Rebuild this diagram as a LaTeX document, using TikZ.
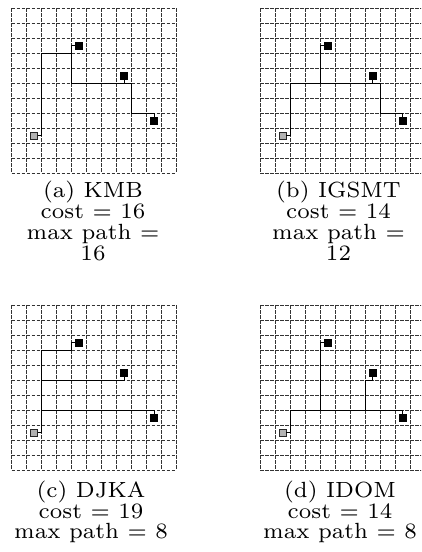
\documentclass[tikz,border=0pt]{standalone}
\usepackage{graphicx}
\tikzset{
  gridline/.style={draw=black!80, line width=0.7pt, dash pattern=on 3.5pt off 1.5pt},
  wire/.style={draw=black, line width=0.9pt},
  term/.style={rectangle, fill=black, draw=black, line width=0.3pt, minimum size=7.2pt, inner sep=0pt},
  src/.style={rectangle, fill=black!30, draw=black!85, line width=0.6pt, minimum size=7pt, inner sep=0pt},
  lbl/.style={anchor=base, inner sep=0pt, font=\fontsize{7}{8}\selectfont, scale=3.14}
}
\newcommand\gridpanel{%
  \foreach \i in {0,...,11} {%
    \draw[gridline] (\i,0) -- (\i,11);
    \draw[gridline] (0,\i) -- (11,\i);
  }%
}
\begin{document}
\begin{tikzpicture}[x=1pt, y=-1pt]
\useasboundingbox (0,0) rectangle (421,552);
\clip (0,0) rectangle (421,552);

% ---------- (a) KMB ----------
\begin{scope}[shift={(11.5,8.3)}, x=15pt, y=-15pt]
  \gridpanel
  \node[src]  (aS)  at (1.5,8.5) {};
  \node[term] (aT1) at (4.5,2.5) {};
  \node[term] (aT2) at (7.5,4.5) {};
  \node[term] (aT3) at (9.5,7.5) {};
  \coordinate (aJ1) at (4,3);
  \coordinate (aJ2) at (7.5,5);
  \draw[wire] (aS) -- (2,8.5) |- (aJ1) |- (aT1);
  \draw[wire] (aJ1) |- (8,5) |- (9.5,7) -- (aT3);
  \draw[wire] (aJ2) -- (aT2);
\end{scope}

% ---------- (b) IGSMT ----------
\begin{scope}[shift={(260,8.3)}, x=15pt, y=-15pt]
  \gridpanel
  \node[src]  (bS)  at (1.5,8.5) {};
  \node[term] (bT1) at (4.5,2.5) {};
  \node[term] (bT2) at (7.5,4.5) {};
  \node[term] (bT3) at (9.5,7.5) {};
  \coordinate (bJ1) at (4,5);
  \coordinate (bJ2) at (7.5,5);
  \draw[wire] (bS) -- (2,8.5) |- (8,5) |- (9.5,7) -- (bT3);
  \draw[wire] (bJ1) |- (bT1);
  \draw[wire] (bJ2) -- (bT2);
\end{scope}

% ---------- (c) DJKA ----------
\begin{scope}[shift={(11.5,305)}, x=15pt, y=-15pt]
  \gridpanel
  \node[src]  (cS)  at (1.5,8.5) {};
  \node[term] (cT1) at (4.5,2.5) {};
  \node[term] (cT2) at (7.5,4.5) {};
  \node[term] (cT3) at (9.5,7.5) {};
  \coordinate (cJ1) at (2,5);
  \coordinate (cJ2) at (2,7);
  \draw[wire] (cS) -- (2,8.5) |- (4,3) |- (cT1);
  \draw[wire] (cJ1) -| (cT2);
  \draw[wire] (cJ2) -| (cT3);
\end{scope}

% ---------- (d) IDOM ----------
\begin{scope}[shift={(260,305)}, x=15pt, y=-15pt]
  \gridpanel
  \node[src]  (dS)  at (1.5,8.5) {};
  \node[term] (dT1) at (4.5,2.5) {};
  \node[term] (dT2) at (7.5,4.5) {};
  \node[term] (dT3) at (9.5,7.5) {};
  \coordinate (dJ1) at (4,7);
  \coordinate (dJ2) at (7,7);
  \draw[wire] (dS) -- (2,8.5) |- (9.5,7) -- (dT3);
  \draw[wire] (dJ1) |- (dT1);
  \draw[wire] (dJ2) |- (7.5,5) -- (dT2);
\end{scope}

% ---------- captions ----------
\node[lbl] (capA1) at (93,197.5) {(a) KMB};
\node[lbl] (capA2) at (93,218.5) {cost = 16};
\node[lbl] (capA3) at (93,239.5) {max path =};
\node[lbl] (capA4) at (93,260) {16};

\node[lbl] (capB1) at (338.5,197.5) {(b) IGSMT};
\node[lbl] (capB2) at (338.5,218.5) {cost = 14};
\node[lbl] (capB3) at (338.5,239.5) {max path =};
\node[lbl] (capB4) at (338.5,260) {12};

\node[lbl] (capC1) at (91,497) {(c) DJKA};
\node[lbl] (capC2) at (91,518) {cost = 19};
\node[lbl] (capC3) at (91,538.5) {max path = 8};

\node[lbl] (capD1) at (340,497) {(d) IDOM};
\node[lbl] (capD2) at (340,518) {cost = 14};
\node[lbl] (capD3) at (340,538.5) {max path = 8};
\end{tikzpicture}
\end{document}
